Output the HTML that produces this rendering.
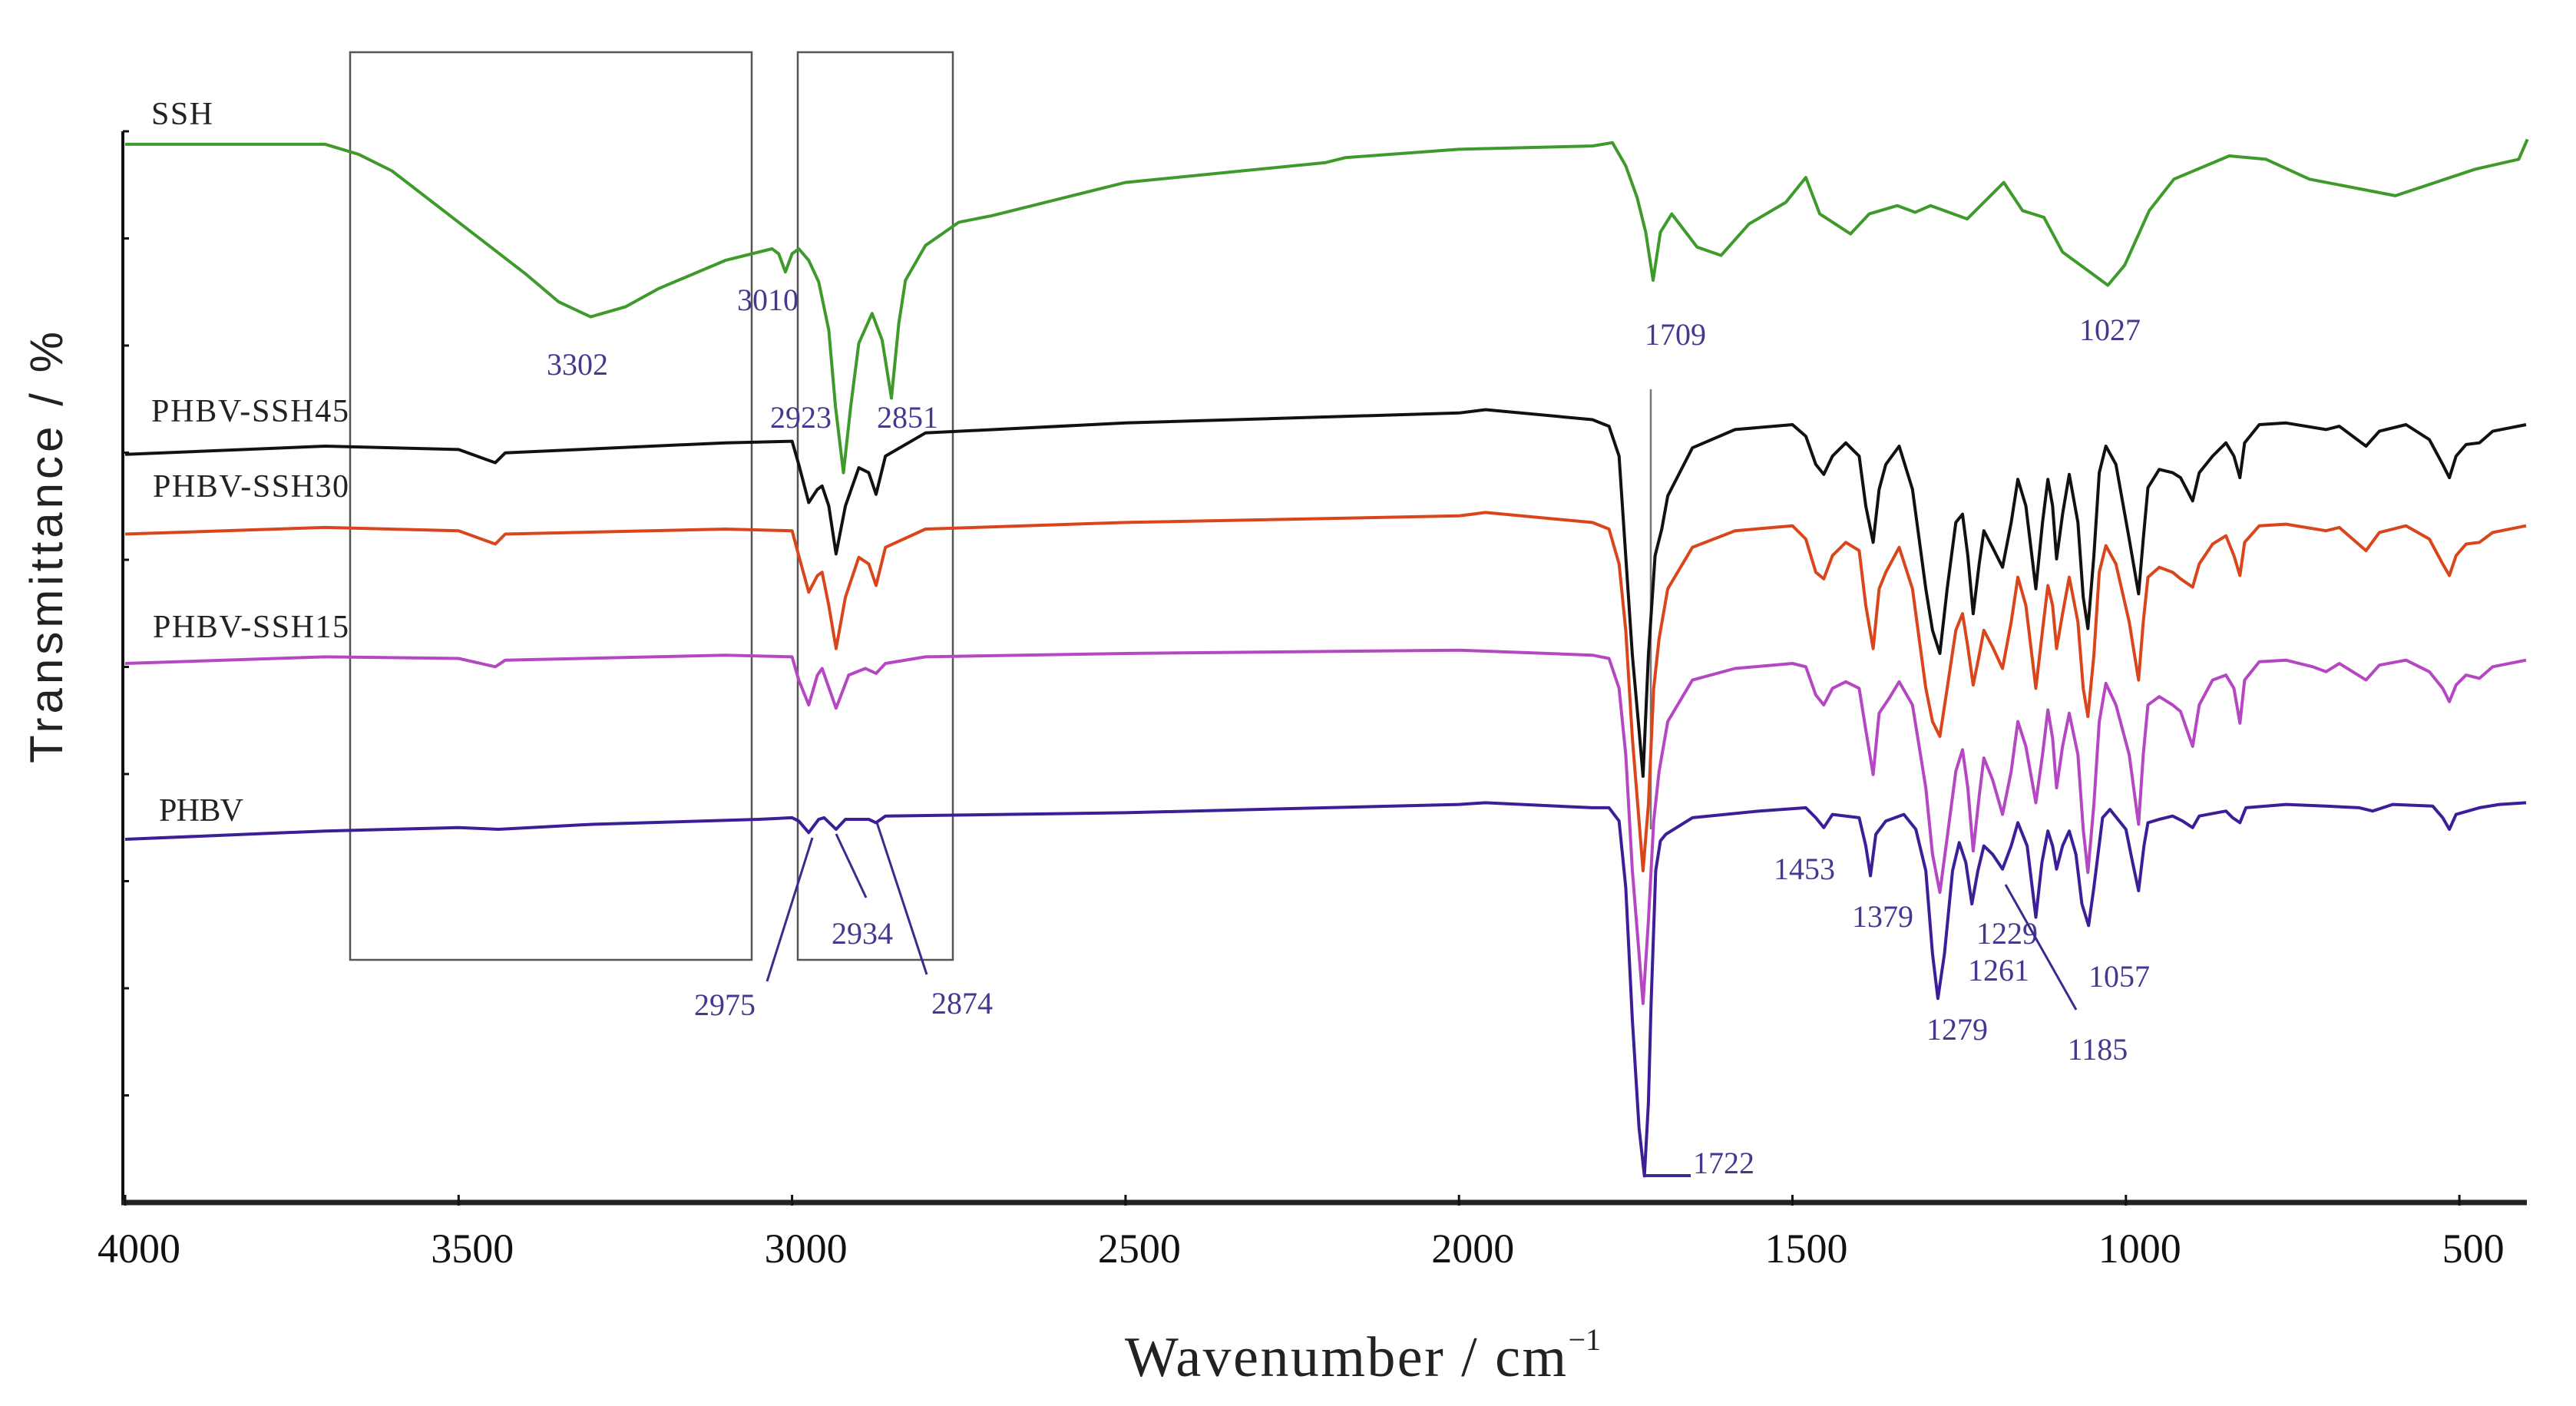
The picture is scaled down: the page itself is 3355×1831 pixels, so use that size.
<!DOCTYPE html>
<html><head><meta charset="utf-8">
<style>
html,body{margin:0;padding:0;background:#fff;}
svg{display:block;}
text{font-family:"Liberation Serif",serif;}
.pk{fill:#46378f;font-size:40px;}
.lbl{fill:#222;font-size:42px;}
.tick{fill:#111;font-size:54px;}
</style></head>
<body>
<svg id="chart" width="3355" height="1831" viewBox="0 0 3355 1831" xmlns="http://www.w3.org/2000/svg">
<rect x="0" y="0" width="3355" height="1831" fill="#fff"/>
<g id="boxes">
<rect x="456" y="68" width="523" height="1182" fill="none" stroke="#555" stroke-width="2.5"/>
<rect x="1039" y="68" width="202" height="1182" fill="none" stroke="#555" stroke-width="2.5"/>
<line x1="2150" y1="507" x2="2150" y2="1080" stroke="#777" stroke-width="2.5"/>
</g>
<g id="series"></g>
<g id="axes"></g>
<g id="labels">
<text class="lbl" x="197" y="162" textLength="80">SSH</text>
<text class="lbl" x="197" y="549" textLength="257">PHBV-SSH45</text>
<text class="lbl" x="199" y="647" textLength="255">PHBV-SSH30</text>
<text class="lbl" x="199" y="830" textLength="255">PHBV-SSH15</text>
<text class="lbl" x="207" y="1069" textLength="110">PHBV</text>

<text class="pk" x="752" y="488" text-anchor="middle">3302</text>
<text class="pk" x="1000" y="404" text-anchor="middle">3010</text>
<text class="pk" x="1043" y="557" text-anchor="middle">2923</text>
<text class="pk" x="1182" y="557" text-anchor="middle">2851</text>
<text class="pk" x="2182" y="449" text-anchor="middle">1709</text>
<text class="pk" x="2748" y="443" text-anchor="middle">1027</text>
<text class="pk" x="1123" y="1229" text-anchor="middle">2934</text>
<text class="pk" x="944" y="1322" text-anchor="middle">2975</text>
<text class="pk" x="1253" y="1320" text-anchor="middle">2874</text>
<text class="pk" x="2350" y="1145" text-anchor="middle">1453</text>
<text class="pk" x="2452" y="1207" text-anchor="middle">1379</text>
<text class="pk" x="2614" y="1229" text-anchor="middle">1229</text>
<text class="pk" x="2603" y="1277" text-anchor="middle">1261</text>
<text class="pk" x="2760" y="1285" text-anchor="middle">1057</text>
<text class="pk" x="2549" y="1354" text-anchor="middle">1279</text>
<text class="pk" x="2732" y="1380" text-anchor="middle">1185</text>
<text class="pk" x="2205" y="1528">1722</text>

<line x1="999" y1="1278" x2="1058" y2="1091" stroke="#3d2a8c" stroke-width="3"/>
<line x1="1128" y1="1169" x2="1089" y2="1086" stroke="#3d2a8c" stroke-width="3"/>
<line x1="1207" y1="1269" x2="1142" y2="1071" stroke="#3d2a8c" stroke-width="3"/>
<line x1="2612" y1="1152" x2="2704" y2="1315" stroke="#3d2a8c" stroke-width="3"/>
<line x1="2143" y1="1531" x2="2202" y2="1531" stroke="#3d2a8c" stroke-width="4"/>

<text x="65" y="713" transform="rotate(-90 65 713)" text-anchor="middle" dominant-baseline="middle" font-family="Liberation Sans, sans-serif" style="font-family:'Liberation Sans',sans-serif" font-size="60" fill="#222" textLength="562">Transmittance / %</text>
<text x="1465" y="1792" font-size="74" fill="#222"><tspan textLength="575">Wavenumber / cm</tspan><tspan dy="-34" font-size="40">−1</tspan></text>
</g>
</svg>
<script>
const xTicks = [4000, 3500, 3000, 2500, 2000, 1500, 1000, 500];
const seriesNames = ["SSH", "PHBV-SSH45", "PHBV-SSH30", "PHBV-SSH15", "PHBV"];
const sshData = [[4000,638],[3850,638],[3700,638],[3650,632],[3600,622],[3500,591],[3400,560],[3350,543],[3302,534],[3250,540],[3200,551],[3100,568],[3030,575],[3020,572],[3010,561],[3000,572],[2990,575],[2975,568],[2960,555],[2945,526],[2935,480],[2923,440],[2912,480],[2900,518],[2880,536],[2865,520],[2851,485],[2840,530],[2830,556],[2800,577],[2750,591],[2700,595],[2500,615],[2200,627],[2170,630],[2000,635],[1800,637],[1770,639],[1750,625],[1733,606],[1720,585],[1709,556],[1698,585],[1681,596],[1660,585],[1643,576],[1607,571],[1565,590],[1510,603],[1480,618],[1459,596],[1413,584],[1385,596],[1343,601],[1316,597],[1293,601],[1238,593],[1183,615],[1155,598],[1123,594],[1095,573],[1054,561],[1027,553],[1002,565],[965,598],[928,617],[845,631],[790,629],[725,617],[596,607],[476,623],[411,629],[398,641]];
const ssh45Data = [[4000,451],[3700,456],[3500,454],[3445,446],[3430,452],[3100,458],[3000,459],[2990,445],[2975,422],[2962,430],[2955,432],[2945,420],[2934,391],[2920,420],[2900,443],[2885,440],[2874,427],[2860,450],[2800,464],[2500,470],[2000,476],[1960,478],[1800,472],[1775,468],[1760,450],[1755,420],[1740,330],[1730,285],[1724,257],[1716,330],[1706,390],[1696,406],[1687,426],[1650,455],[1586,466],[1500,469],[1480,462],[1465,445],[1453,439],[1440,450],[1420,458],[1400,450],[1390,420],[1379,398],[1370,430],[1360,445],[1340,456],[1320,430],[1300,370],[1290,345],[1279,331],[1268,370],[1255,410],[1245,415],[1237,390],[1229,355],[1220,385],[1213,405],[1200,395],[1185,383],[1172,410],[1162,436],[1150,420],[1135,370],[1125,410],[1117,436],[1110,420],[1104,388],[1095,415],[1085,439],[1072,410],[1064,365],[1057,346],[1048,390],[1040,440],[1030,456],[1015,445],[995,400],[981,367],[974,400],[967,431],[950,442],[930,440],[918,437],[900,423],[890,440],[870,450],[850,458],[838,450],[829,437],[822,458],[800,469],[760,470],[700,466],[680,468],[640,456],[620,465],[580,469],[545,460],[525,445],[515,437],[505,450],[490,457],[470,458],[450,465],[400,469]];
const ssh30Data = [[4000,403],[3700,407],[3500,405],[3445,397],[3430,403],[3100,406],[3000,405],[2990,390],[2975,368],[2962,378],[2955,380],[2945,360],[2934,334],[2920,365],[2900,389],[2885,385],[2874,372],[2860,395],[2800,406],[2500,410],[2000,414],[1960,416],[1800,410],[1775,406],[1760,385],[1750,345],[1740,280],[1730,230],[1724,200],[1716,240],[1708,310],[1700,340],[1687,370],[1650,395],[1586,405],[1500,408],[1480,400],[1465,380],[1453,376],[1440,390],[1420,398],[1400,393],[1390,360],[1379,334],[1370,370],[1360,380],[1340,395],[1320,370],[1300,310],[1290,290],[1279,281],[1268,310],[1255,345],[1245,355],[1237,335],[1229,312],[1220,330],[1213,345],[1200,335],[1185,322],[1172,350],[1162,377],[1150,360],[1135,310],[1125,345],[1117,372],[1110,360],[1104,334],[1095,355],[1085,377],[1072,350],[1064,310],[1057,293],[1048,330],[1040,380],[1030,396],[1015,385],[995,350],[981,315],[974,350],[967,377],[950,383],[930,380],[918,376],[900,371],[890,385],[870,397],[850,402],[838,390],[829,378],[822,398],[800,408],[760,409],[700,405],[680,407],[640,393],[620,404],[580,408],[545,400],[525,385],[515,378],[505,390],[490,397],[470,398],[450,404],[400,408]];
const ssh15Data = [[4000,325],[3700,329],[3500,328],[3445,323],[3430,327],[3100,330],[3000,329],[2990,315],[2975,300],[2962,318],[2955,322],[2934,298],[2915,318],[2890,322],[2874,319],[2860,325],[2800,329],[2500,331],[2000,333],[1800,330],[1775,328],[1760,310],[1750,270],[1740,200],[1730,150],[1724,120],[1716,170],[1708,230],[1700,260],[1687,290],[1650,315],[1586,322],[1500,325],[1480,323],[1465,306],[1453,300],[1440,310],[1420,314],[1400,310],[1390,285],[1379,258],[1370,295],[1355,304],[1340,314],[1320,300],[1300,250],[1290,210],[1279,187],[1268,220],[1255,260],[1245,273],[1237,250],[1229,212],[1220,245],[1213,268],[1200,255],[1185,234],[1172,260],[1162,290],[1150,275],[1135,241],[1125,270],[1117,297],[1110,280],[1104,250],[1095,275],[1085,295],[1072,270],[1064,225],[1057,199],[1048,240],[1040,290],[1030,313],[1015,300],[995,270],[981,228],[974,270],[967,300],[950,305],[930,300],[918,296],[900,275],[890,300],[870,315],[850,318],[838,310],[829,289],[822,315],[800,326],[760,327],[720,323],[700,320],[680,325],[640,315],[620,324],[580,327],[545,320],[525,310],[515,302],[505,312],[490,318],[470,316],[450,323],[400,327]];
const phbvData = [[4000,219],[3700,224],[3500,226],[3440,225],[3300,228],[3050,231],[3000,232],[2990,230],[2975,223],[2960,231],[2952,232],[2934,225],[2920,231],[2885,231],[2874,229],[2860,233],[2500,235],[2000,240],[1960,241],[1800,238],[1775,238],[1760,230],[1750,190],[1740,110],[1730,45],[1722,16],[1716,60],[1712,120],[1705,200],[1698,218],[1690,222],[1650,232],[1550,236],[1480,238],[1465,232],[1453,226],[1440,234],[1400,232],[1390,215],[1383,197],[1375,222],[1360,230],[1333,234],[1315,225],[1300,200],[1290,150],[1282,123],[1272,150],[1260,200],[1250,217],[1240,205],[1231,180],[1222,200],[1213,215],[1200,210],[1185,201],[1172,215],[1162,229],[1148,215],[1135,172],[1126,205],[1117,224],[1110,215],[1104,201],[1095,215],[1085,224],[1075,210],[1066,180],[1056,167],[1048,190],[1035,232],[1024,237],[1000,225],[990,205],[981,188],[973,215],[967,229],[950,231],[930,233],[915,230],[900,226],[890,233],[850,236],[840,232],[829,229],[820,238],[760,240],[700,239],[650,238],[630,236],[600,240],[540,239],[525,232],[515,225],[505,234],[470,238],[440,240],[400,241]];

const NS = "http://www.w3.org/2000/svg";
function xScale(w){ return 163 + (4000 - w) * 0.8686; }
function yScale(v){ return 1566 - v * 2.16; }

const seriesG = document.getElementById('series');
const all = [sshData, ssh45Data, ssh30Data, ssh15Data, phbvData];
const colors = ["#3f9a2c", "#111111", "#d9461c", "#b548c2", "#3b1e98"];
const slugs = ["series-ssh", "series-phbv-ssh45", "series-phbv-ssh30", "series-phbv-ssh15", "series-phbv"];
for (let i = 4; i >= 0; i--) {
  const d = all[i].map((p, k) => (k ? 'L' : 'M') + xScale(p[0]).toFixed(1) + ' ' + yScale(p[1]).toFixed(1)).join(' ');
  const path = document.createElementNS(NS, 'path');
  path.setAttribute('d', d);
  path.setAttribute('fill', 'none');
  path.setAttribute('stroke', colors[i]);
  path.setAttribute('stroke-width', '4');
  path.setAttribute('stroke-linejoin', 'round');
  
  
  seriesG.appendChild(path);
}

const axesG = document.getElementById('axes');
const yAxis = document.createElementNS(NS, 'line');
yAxis.setAttribute('x1', 160); yAxis.setAttribute('x2', 160);
yAxis.setAttribute('y1', 171); yAxis.setAttribute('y2', 1568);
yAxis.setAttribute('stroke', '#111'); yAxis.setAttribute('stroke-width', '4');


axesG.appendChild(yAxis);
for (let i = 0; i <= 10; i++) {
  const t = document.createElementNS(NS, 'line');
  const y = 171 + i * 139.5;
  t.setAttribute('x1', 160); t.setAttribute('x2', 168);
  t.setAttribute('y1', y); t.setAttribute('y2', y);
  t.setAttribute('stroke', '#111'); t.setAttribute('stroke-width', '3');
  
  
  axesG.appendChild(t);
}
const xAxis = document.createElementNS(NS, 'line');
xAxis.setAttribute('x1', 158); xAxis.setAttribute('x2', 3291);
xAxis.setAttribute('y1', 1566); xAxis.setAttribute('y2', 1566);
xAxis.setAttribute('stroke', '#222'); xAxis.setAttribute('stroke-width', '7');


axesG.appendChild(xAxis);
xTicks.forEach(w => {
  const x = xScale(w);
  const t = document.createElementNS(NS, 'line');
  t.setAttribute('x1', x); t.setAttribute('x2', x);
  t.setAttribute('y1', 1556); t.setAttribute('y2', 1570);
  t.setAttribute('stroke', '#111'); t.setAttribute('stroke-width', '3');
  
  
  axesG.appendChild(t);
  const lb = document.createElementNS(NS, 'text');
  lb.setAttribute('x', x + 18); lb.setAttribute('y', 1644);
  lb.setAttribute('text-anchor', 'middle');
  lb.setAttribute('class', 'tick');
  
  
  lb.textContent = String(w);
  axesG.appendChild(lb);
});
</script>
</body></html>
